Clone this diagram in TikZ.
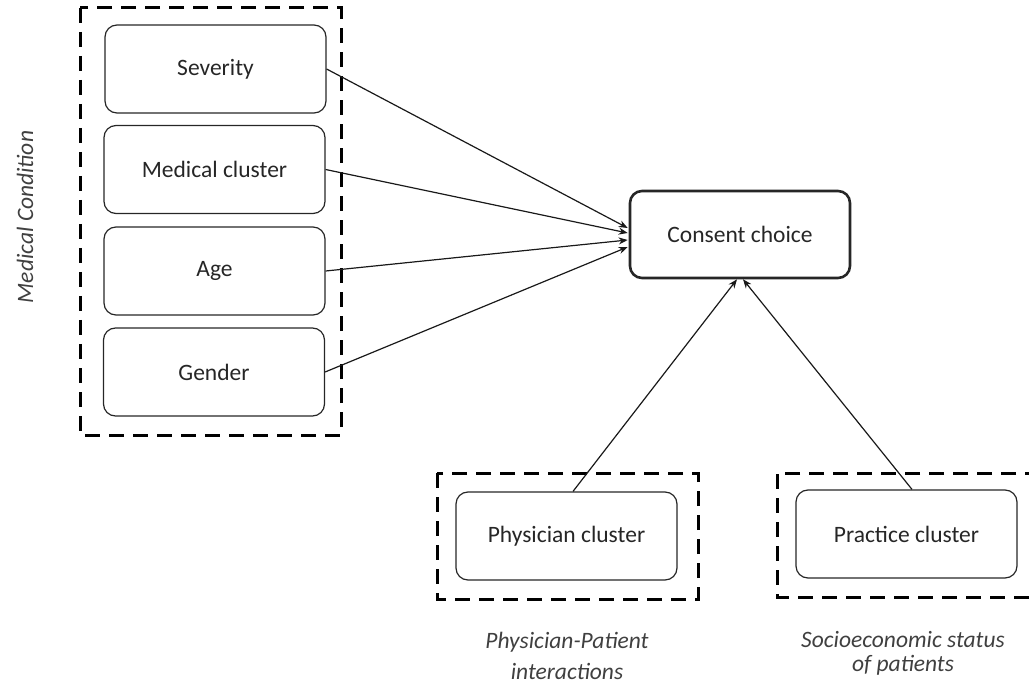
\documentclass[tikz,border=0pt]{standalone}
\usepackage{fontspec}
\setmainfont{Carlito}
\usetikzlibrary{arrows.meta,calc}
\definecolor{txt}{HTML}{262626}
\definecolor{lbl}{HTML}{404040}
\tikzset{
  varbox/.style={draw=black!85, line width=1.2pt, rounded corners=12pt,
    minimum width=221pt, minimum height=88pt, text=txt, inner sep=0pt,
    font=\fontsize{23.5}{28}\selectfont},
  mainbox/.style={varbox, line width=2.6pt, minimum width=220pt, minimum height=87pt},
  groupbox/.style={draw=black, line width=3pt, dash pattern=on 15pt off 9pt},
  grouplabel/.style={text=lbl, align=center, inner sep=0pt,
    font=\fontsize{23.5}{24}\selectfont\itshape},
  conn/.style={draw=black!90, line width=1.2pt, -{Stealth[length=9pt,width=7pt]}}
}
\begin{document}
\begin{tikzpicture}[x=1pt,y=-1pt]
\useasboundingbox (0,0) rectangle (1029,687);
% group frames
\draw[groupbox] (80,8) rectangle (341,435);
\draw[groupbox] (437,473) rectangle (698,599);
\draw[groupbox] (1040,473) -- (777,473) -- (777,597) -- (1040,597);
% nodes
\node[varbox] (sev) at (215.5,69) {Severity};
\node[varbox] (med) at (214.5,169.5) {Medical cluster};
\node[varbox] (age) at (214.5,271) {Age};
\node[varbox] (gen) at (214,372) {Gender};
\node[mainbox] (cons) at (740,234.5) {Consent choice};
\node[varbox] (phys) at (566.5,536) {Physician cluster};
\node[varbox] (prac) at (906.5,534) {Practice cluster};
% labels
\node[grouplabel, rotate=90] (lmed) at (25,217) {Medical Condition};
\node[grouplabel, anchor=base] (lphys) at (567,679) {Physician-Patient\\[7pt]interactions};
\node[grouplabel, anchor=base] (lprac) at (903,671) {Socioeconomic status\\of patients};
% connectors
\draw[conn] (sev.east) -- ($(cons.west)+(-1,-6.5)$);
\draw[conn] (med.east) -- ($(cons.west)+(-1,-1.5)$);
\draw[conn] (age.east) -- ($(cons.west)+(-1,5.5)$);
\draw[conn] (gen.east) -- ($(cons.west)+(-1,12.5)$);
\draw[conn] ($(phys.north)+(6.5,0)$) -- ($(cons.south)+(-3,0)$);
\draw[conn] ($(prac.north)+(5.5,0)$) -- ($(cons.south)+(3,0)$);
\end{tikzpicture}
\end{document}
